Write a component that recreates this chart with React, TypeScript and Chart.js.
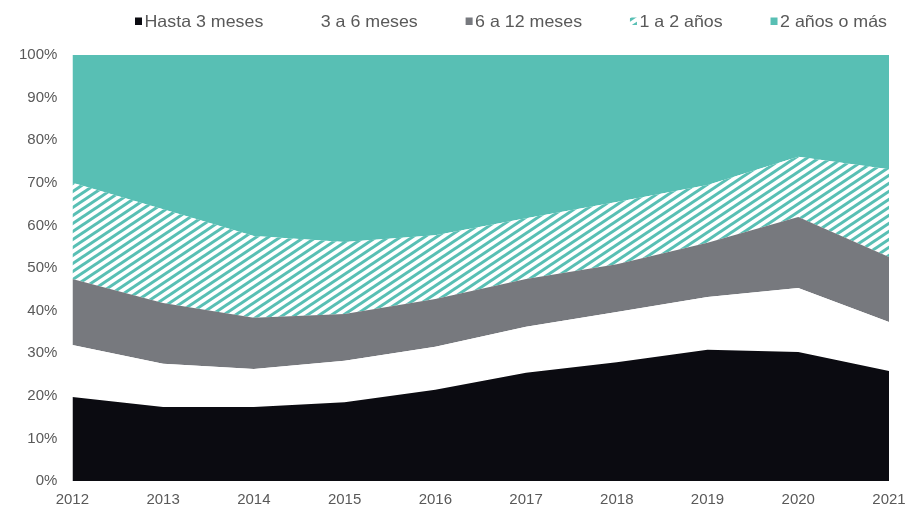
import React, { useEffect, useRef } from "react";
import { Chart, registerables } from "chart.js";

Chart.register(...registerables);

const years = ["2012", "2013", "2014", "2015", "2016", "2017", "2018", "2019", "2020", "2021"];
const seriesNames = ["Hasta 3 meses", "3 a 6 meses", "6 a 12 meses", "1 a 2 años", "2 años o más"];
const hasta3 = [19.7, 17.4, 17.4, 18.5, 21.4, 25.4, 27.9, 30.8, 30.3, 25.8];
const de3a6 = [12.2, 10.1, 8.9, 9.7, 10.1, 10.8, 11.8, 12.4, 15.0, 11.5];
const de6a12 = [15.5, 14.3, 12.0, 11.0, 11.2, 11.2, 11.2, 12.7, 16.7, 15.3];
const de1a2 = [22.6, 22.0, 19.2, 16.9, 15.0, 14.3, 14.6, 13.6, 14.1, 20.6];
const mas2 = [30.0, 36.2, 42.5, 43.9, 42.3, 38.3, 34.5, 30.5, 23.9, 26.8];
const yTicks = [0, 10, 20, 30, 40, 50, 60, 70, 80, 90, 100];

const TEAL = "#58BFB4";
const GRAY = "#77797E";
const BLACK = "#0B0B11";
const TEXT = "#595959";

function makeHatch(): CanvasPattern | string {
  const c = document.createElement("canvas");
  const W = 12, H = 8;
  c.width = W;
  c.height = H;
  const g = c.getContext("2d");
  if (!g) return TEAL;
  g.fillStyle = "#ffffff";
  g.fillRect(0, 0, W, H);
  g.strokeStyle = TEAL;
  g.lineWidth = 3;
  for (let k = -1; k <= 1; k++) {
    g.beginPath();
    g.moveTo(k * W - 2, H + 2 * (H / W));
    g.lineTo(k * W + W + 2, -2 * (H / W));
    g.stroke();
  }
  const p = g.createPattern(c, "repeat");
  return p || TEAL;
}

const legendPlugin = {
  id: "customLegend",
  afterDraw(chart: any) {
    const ctx = chart.ctx as CanvasRenderingContext2D;
    const ds = chart.data.datasets;
    ctx.save();
    ctx.font = '16.5px "Liberation Sans", Arial, sans-serif';
    ctx.textBaseline = "middle";
    const sx = 1.08;
    const box = 7, gap = 2.5;
    const startX = 135, endX = 887;
    const cy = 21;
    const widths = ds.map((d: any) => ctx.measureText(d.label).width * sx);
    const used = widths.reduce((a: number, w: number) => a + w + box + gap, 0);
    const spacing = (endX - startX - used) / (ds.length - 1);
    let x = startX;
    ds.forEach((d: any, i: number) => {
      ctx.fillStyle = d.backgroundColor;
      ctx.fillRect(x, cy - 3.5, box, box + 0.5);
      x += box + gap;
      ctx.save();
      ctx.translate(x, cy + 1);
      ctx.scale(sx, 1);
      ctx.fillStyle = TEXT;
      ctx.fillText(d.label, 0, 0);
      ctx.restore();
      x += widths[i] + spacing;
    });
    ctx.restore();
  },
};

export default function App() {
  const ref = useRef<HTMLCanvasElement | null>(null);
  useEffect(() => {
    if (!ref.current) return;
    const hatch = makeHatch();
    const values = [hasta3, de3a6, de6a12, de1a2, mas2];
    const colors: any[] = [BLACK, "#ffffff", GRAY, hatch, TEAL];
    const chart = new Chart(ref.current, {
      type: "line",
      data: {
        labels: years,
        datasets: seriesNames.map((name, i) => ({
          label: name,
          data: values[i],
          backgroundColor: colors[i],
          borderColor: "rgba(0,0,0,0)",
          borderWidth: 0,
          pointRadius: 0,
          fill: i === 0 ? "origin" : "-1",
          tension: 0,
        })),
      },
      options: {
        animation: false,
        responsive: true,
        maintainAspectRatio: false,
        layout: { padding: { top: 55, left: 4, right: 21, bottom: -8 } },
        plugins: { legend: { display: false }, tooltip: { enabled: false } },
        scales: {
          x: {
            offset: false,
            grid: { display: false, drawTicks: false },
            border: { display: false },
            afterFit: (axis: any) => {
              axis.paddingRight = 0;
              axis.paddingLeft = 0;
            },
            ticks: {
              color: TEXT,
              font: { family: '"Liberation Sans", Arial, sans-serif', size: 15 },
              maxRotation: 0,
              autoSkip: false,
              padding: 10,
            },
          },
          y: {
            stacked: true,
            min: 0,
            max: 100,
            afterBuildTicks: (axis: any) => {
              axis.ticks = yTicks.map((v) => ({ value: v }));
            },
            grid: { display: false, drawTicks: false },
            border: { display: false },
            ticks: {
              color: TEXT,
              font: { family: '"Liberation Sans", Arial, sans-serif', size: 15 },
              padding: 15,
              callback: (v: any) => v + "%",
            },
          },
        },
      },
      plugins: [legendPlugin],
    });
    return () => chart.destroy();
  }, []);
  return (
    <div style={{ position: "absolute", left: 0, top: 0, width: 910, height: 511 }}>
      <canvas ref={ref} />
    </div>
  );
}
